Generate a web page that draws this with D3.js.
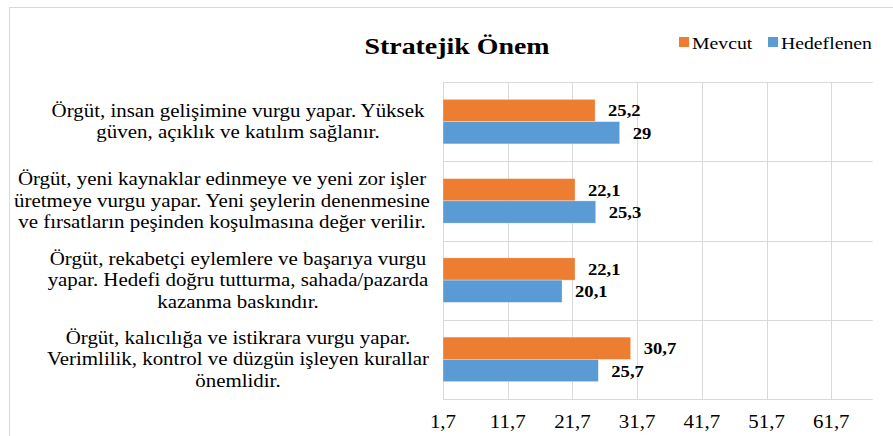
<!DOCTYPE html>
<html lang="tr">
  <head>
    <meta charset="UTF-8" />
    <title>Stratejik Önem</title>
    <style>
      body {
        margin: 0;
        background: #fff;
      }
    </style>
  </head>
  <body>
    <div id="chart"></div>

    <script src="https://d3js.org/d3.v7.min.js"></script>
    <script>
      // category labels, already split into lines as in the picture
      const categories = [
        ["Örgüt, insan gelişimine vurgu yapar. Yüksek", "güven, açıklık ve katılım sağlanır."],
        [
          "Örgüt, yeni kaynaklar edinmeye ve yeni zor işler",
          "üretmeye vurgu yapar. Yeni şeylerin denenmesine",
          "ve fırsatların peşinden koşulmasına değer verilir.",
        ],
        [
          "Örgüt, rekabetçi eylemlere ve başarıya vurgu",
          "yapar. Hedefi doğru tutturma, sahada/pazarda",
          "kazanma baskındır.",
        ],
        [
          "Örgüt, kalıcılığa ve istikrara vurgu yapar.",
          "Verimlilik, kontrol ve düzgün işleyen kurallar",
          "önemlidir.",
        ],
      ];
      const seriesNames = ["Mevcut", "Hedeflenen"];
      const mevcut = [25.2, 22.1, 22.1, 30.7];
      const hedeflenen = [29, 25.3, 20.1, 25.7];
      const xTicks = [1.7, 11.7, 21.7, 31.7, 41.7, 51.7, 61.7];
      const colors = ["#ED7D31", "#5B9BD5"];

      const width = 893,
        height = 436;
      const plot = { left: 443, right: 872.7, top: 82, bottom: 399 };
      const serif = "Liberation Serif, DejaVu Serif, FreeSerif, Noto Serif, Tinos, serif";

      const svg = d3
        .select("#chart")
        .append("svg")
        .attr("width", width)
        .attr("height", height)
        .style("font-family", serif);

      // chart frame
      svg
        .append("rect")
        .attr("x", 9.5)
        .attr("y", 7.5)
        .attr("width", 900)
        .attr("height", 450)
        .attr("fill", "none")
        .attr("stroke", "#d9d9d9");

      const keys = categories.map((d, i) => i);
      const x = d3.scaleLinear().domain([1.7, 68.1]).range([plot.left, plot.right]);
      const y = d3.scaleBand().domain(keys).range([plot.top, plot.bottom]);
      const ySub = d3
        .scaleBand()
        .domain(seriesNames)
        .range([0, y.bandwidth()])
        .paddingOuter(0.78);

      // gridlines
      svg
        .append("g")
        .selectAll("line")
        .data(xTicks)
        .join("line")
        .attr("x1", (d) => Math.round(x(d)) + 0.5)
        .attr("x2", (d) => Math.round(x(d)) + 0.5)
        .attr("y1", plot.top)
        .attr("y2", plot.bottom)
        .attr("stroke", "#d9d9d9");

      const hLines = keys.map((k) => y(k)).concat([plot.bottom]);
      svg
        .append("g")
        .selectAll("line")
        .data(hLines)
        .join("line")
        .attr("x1", plot.left)
        .attr("x2", plot.right)
        .attr("y1", (d) => Math.round(d) + 0.5)
        .attr("y2", (d) => Math.round(d) + 0.5)
        .attr("stroke", "#d9d9d9");

      // bars
      const rows = keys.map((k) => ({
        k: k,
        vals: [
          { s: "Mevcut", v: mevcut[k], c: colors[0] },
          { s: "Hedeflenen", v: hedeflenen[k], c: colors[1] },
        ],
      }));

      const groups = svg
        .append("g")
        .selectAll("g")
        .data(rows)
        .join("g")
        .attr("transform", (d) => `translate(0,${y(d.k)})`);

      groups
        .selectAll("rect")
        .data((d) => d.vals)
        .join("rect")
        .attr("x", x(1.7))
        .attr("y", (d) => ySub(d.s))
        .attr("width", (d) => x(d.v) - x(1.7))
        .attr("height", ySub.bandwidth())
        .attr("fill", (d) => d.c)
        .attr("stroke", "#fff")
        .attr("stroke-opacity", 0.5)
        .attr("stroke-width", 0.6);

      groups
        .selectAll("text")
        .data((d) => d.vals)
        .join("text")
        .attr("x", (d) => x(d.v) + 13)
        .attr("y", (d) => ySub(d.s) + ySub.bandwidth() / 2 + 6)
        .attr("font-size", 16)
        .attr("font-weight", "bold")
        .text((d) => String(d.v).replace(".", ","));

      // category labels (the long second block sits a bit further left)
      const labelCx = [238, 222, 238, 238];
      const lineH = 21.5;
      const catLabels = svg
        .append("g")
        .selectAll("text")
        .data(keys)
        .join("text")
        .attr("x", (k) => labelCx[k])
        .attr("text-anchor", "middle")
        .attr("font-size", 18)
        .each(function (k) {
          const lines = categories[k];
          const cy = y(k) + y.bandwidth() / 2;
          const y0 = cy - ((lines.length - 1) * lineH) / 2 + 6;
          d3.select(this)
            .selectAll("tspan")
            .data(lines)
            .join("tspan")
            .attr("x", labelCx[k])
            .attr("y", (d, i) => y0 + i * lineH)
            .text((d) => d);
        });

      // x axis labels
      svg
        .append("g")
        .selectAll("text")
        .data(xTicks)
        .join("text")
        .attr("x", (d) => x(d))
        .attr("y", 428)
        .attr("text-anchor", "middle")
        .attr("font-size", 18)
        .text((d) => String(d).replace(".", ","));

      // title
      svg
        .append("text")
        .attr("x", 457)
        .attr("y", 54)
        .attr("text-anchor", "middle")
        .attr("font-size", 24)
        .attr("font-weight", "bold")
        .text("Stratejik Önem");

      // legend
      const legend = svg.append("g").attr("transform", "translate(679,36)");
      const legX = [0, 89];
      seriesNames.forEach((name, i) => {
        legend
          .append("rect")
          .attr("x", legX[i])
          .attr("y", 1)
          .attr("width", 10)
          .attr("height", 10)
          .attr("fill", colors[i]);
        legend
          .append("text")
          .attr("x", legX[i] + 13)
          .attr("y", 13)
          .attr("font-size", 17)
          .text(name);
      });

      // the source picture is stretched sideways; widen text to match
      const probe = catLabels.filter((k) => k === 1).select("tspan:nth-child(2)").node();
      const sx = 416 / probe.getComputedTextLength();
      svg.selectAll("text").each(function () {
        const ax = +d3.select(this).attr("x");
        d3.select(this).attr("transform", `translate(${ax},0) scale(${sx},1) translate(${-ax},0)`);
      });
    </script>
  </body>
</html>
